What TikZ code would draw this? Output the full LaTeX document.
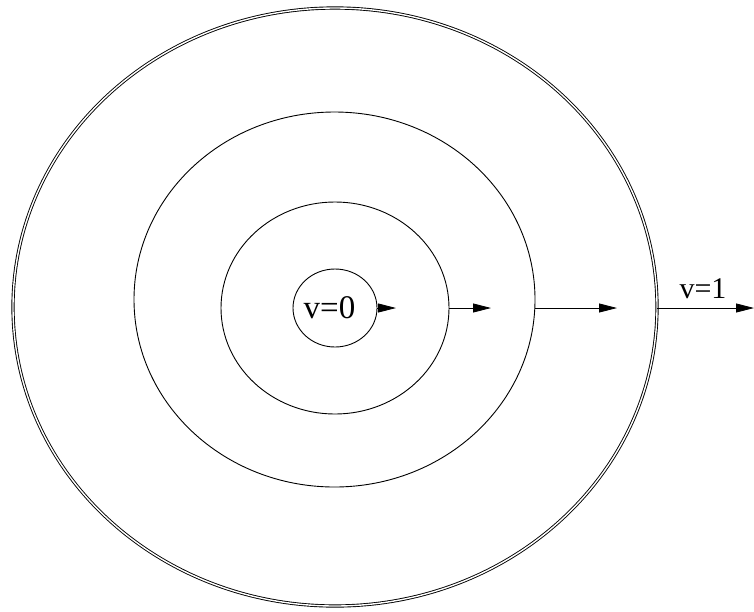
\documentclass[tikz,border=0pt]{standalone}
\usepackage{fontspec}
\setmainfont{Liberation Serif}
\usetikzlibrary{shapes.geometric,arrows.meta}
\begin{document}
\begin{tikzpicture}[x=1pt,y=-1pt,
  ring/.style={draw, ellipse, inner sep=0pt, line width=0.9pt},
  outerring/.style={ring, double, double distance=1.4pt, line width=0.9pt},
  flow/.style={line width=0.8pt, -{Triangle[length=18pt,width=9pt]}},
  lbl/.style={inner sep=0pt, font=\fontsize{33}{35}\selectfont}]
\useasboundingbox (0,0) rectangle (754,611);

% concentric level curves
\node[outerring, minimum width=644pt, minimum height=598pt] (c3) at (335,307) {};
\node[ring, minimum width=401pt, minimum height=375pt] (c2) at (334.5,299.5) {};
\node[ring, minimum width=228pt, minimum height=212pt] (c1) at (335,308) {};
\node[ring, minimum width=84pt, minimum height=78pt] (c0) at (335,308) {};

% labels
\node[lbl] (l0) at (329.5,308) {v=0};
\node[lbl, font=\fontsize{30}{32}\selectfont, anchor=base] (l1) at (703,298) {v=1};

% arrow tips
\coordinate (t0) at (396,308);
\coordinate (t1) at (491,308);
\coordinate (t2) at (617,308);
\coordinate (t3) at (754,308);

\draw[flow] (c0.east |- t0) -- (t0);
\draw[flow] (c1.east |- t1) -- (t1);
\draw[flow] (c2.east |- t2) -- (t2);
\draw[flow] (c3.east |- t3) -- (t3);
\end{tikzpicture}
\end{document}
